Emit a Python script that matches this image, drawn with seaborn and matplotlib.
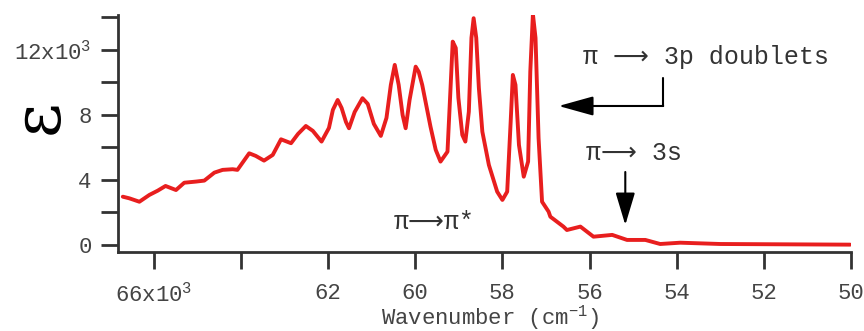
import matplotlib
matplotlib.use('Agg')
import matplotlib.pyplot as plt
import pandas as pd
import seaborn as sns

# espectro (número de onda em 10^3 cm^-1, epsilon em 10^3)
wavenumber = [66.71, 66.56, 66.33, 66.10, 65.91, 65.73, 65.49, 65.30, 65.03, 64.84,
              64.61, 64.42, 64.19, 64.08, 63.81, 63.66, 63.47, 63.27, 63.08, 62.85,
              62.69, 62.51, 62.35, 62.15, 61.98, 61.89, 61.78, 61.69, 61.59, 61.52,
              61.39, 61.21, 61.09, 60.95, 60.79, 60.66, 60.56, 60.47, 60.38, 60.29,
              60.22, 60.13, 59.99, 59.92, 59.84, 59.65, 59.53, 59.42, 59.26, 59.19,
              59.14, 59.07, 59.01, 58.92, 58.85, 58.77, 58.71, 58.66, 58.60, 58.54,
              58.46, 58.31, 58.12, 58.00, 57.89, 57.81, 57.76, 57.70, 57.62, 57.51,
              57.41, 57.36, 57.30, 57.24, 57.17, 57.09, 56.94, 56.90, 56.60, 56.52,
              56.21, 55.91, 55.48, 55.14, 54.72, 54.38, 53.92, 53.00, 50.02]
epsilon = [2.97, 2.87, 2.66, 3.08, 3.34, 3.63, 3.38, 3.83, 3.90, 3.96,
           4.45, 4.62, 4.66, 4.62, 5.64, 5.48, 5.19, 5.54, 6.50, 6.26,
           6.83, 7.32, 7.02, 6.36, 7.20, 8.31, 8.92, 8.43, 7.57, 7.18,
           8.18, 9.03, 8.68, 7.45, 6.71, 7.82, 9.85, 11.08, 9.85, 8.00,
           7.18, 8.92, 10.97, 10.65, 9.85, 7.28, 5.85, 5.13, 5.74, 9.66,
           12.51, 12.12, 9.05, 6.77, 6.36, 8.20, 12.74, 13.95, 12.74, 9.66,
           6.97, 4.92, 3.28, 2.77, 3.28, 7.59, 10.46, 9.85, 6.15, 4.20,
           5.13, 10.66, 14.20, 12.74, 6.58, 2.66, 2.05, 1.74, 1.13, 0.92,
           1.13, 0.51, 0.62, 0.31, 0.31, 0.06, 0.14, 0.06, 0.02]

x_ticks = [66, 64, 62, 60, 58, 56, 54, 52, 50]
x_tick_labels = ['66x10$^3$', '', '62', '60', '58', '56', '54', '52', '50']
y_ticks = [0, 2, 4, 6, 8, 10, 12, 14]
y_tick_labels = ['0', '', '4', '', '8', '', '12x10$^3$', '']

df = pd.DataFrame({'Wavenumber': wavenumber, 'epsilon': epsilon})

sns.set_style('ticks')
mono = ['Liberation Mono', 'DejaVu Sans']
plt.rcParams['font.family'] = mono
plt.rcParams['mathtext.fontset'] = 'custom'
plt.rcParams['mathtext.rm'] = 'Liberation Mono'
plt.rcParams['mathtext.it'] = 'Liberation Mono'
plt.rcParams['mathtext.default'] = 'rm'

fig = plt.figure(figsize=(8.64, 3.31), dpi=100)
fig.patch.set_facecolor('white')
ax = fig.add_axes([0.1366, 0.2378, 0.8484, 0.717])

sns.lineplot(data=df, x='Wavenumber', y='epsilon', ax=ax, color='#e81e1e',
             linewidth=2.8, sort=False)

ax.set_xlim(66.82, 50.0)
ax.set_ylim(-0.45, 14.15)
ax.set_xticks(x_ticks)
ax.set_xticklabels(x_tick_labels)
ax.set_yticks(y_ticks)
ax.set_yticklabels(y_tick_labels)

for s in ['top', 'right']:
    ax.spines[s].set_visible(False)
for s in ['left', 'bottom']:
    ax.spines[s].set_color('#333333')
    ax.spines[s].set_linewidth(2)

ax.tick_params(axis='both', colors='#333333', width=2, length=12, labelsize=16,
               labelcolor='#444444')
ax.tick_params(axis='x', pad=10)
ax.tick_params(axis='y', pad=7)

ax.set_xlabel('Wavenumber (cm$^{-1}$)', fontsize=16, color='#444444')
ax.xaxis.set_label_coords(0.507, -0.215)
ax.set_ylabel('ε', fontsize=48, family=['DejaVu Serif'], color='black')
ax.yaxis.set_label_coords(-0.063, 0.57)

# anotações
ax.text(56.16, 11.55, 'π ⟶ 3p doublets', fontsize=18, color='#333333',
        ha='left', va='center')
ax.plot([54.31, 54.31], [10.28, 8.55], color='black', linewidth=1.5)
ax.annotate('', xy=(56.71, 8.55), xytext=(54.31, 8.55),
            arrowprops=dict(arrowstyle='-|>,head_length=1.08,head_width=0.3',
                            color='black', linewidth=1.5, mutation_scale=20,
                            shrinkA=0, shrinkB=0))

ax.text(56.09, 5.66, 'π⟶ 3s', fontsize=18, color='#333333', ha='left', va='center')
ax.annotate('', xy=(55.18, 1.23), xytext=(55.18, 4.49),
            arrowprops=dict(arrowstyle='-|>,head_length=1.0,head_width=0.3',
                            color='black', linewidth=1.5, mutation_scale=20,
                            shrinkA=0, shrinkB=0))

ax.text(60.49, 1.42, 'π⟶π*', fontsize=18, color='#333333', ha='left', va='center')

fig.savefig('out.png', dpi=100, facecolor='white')
